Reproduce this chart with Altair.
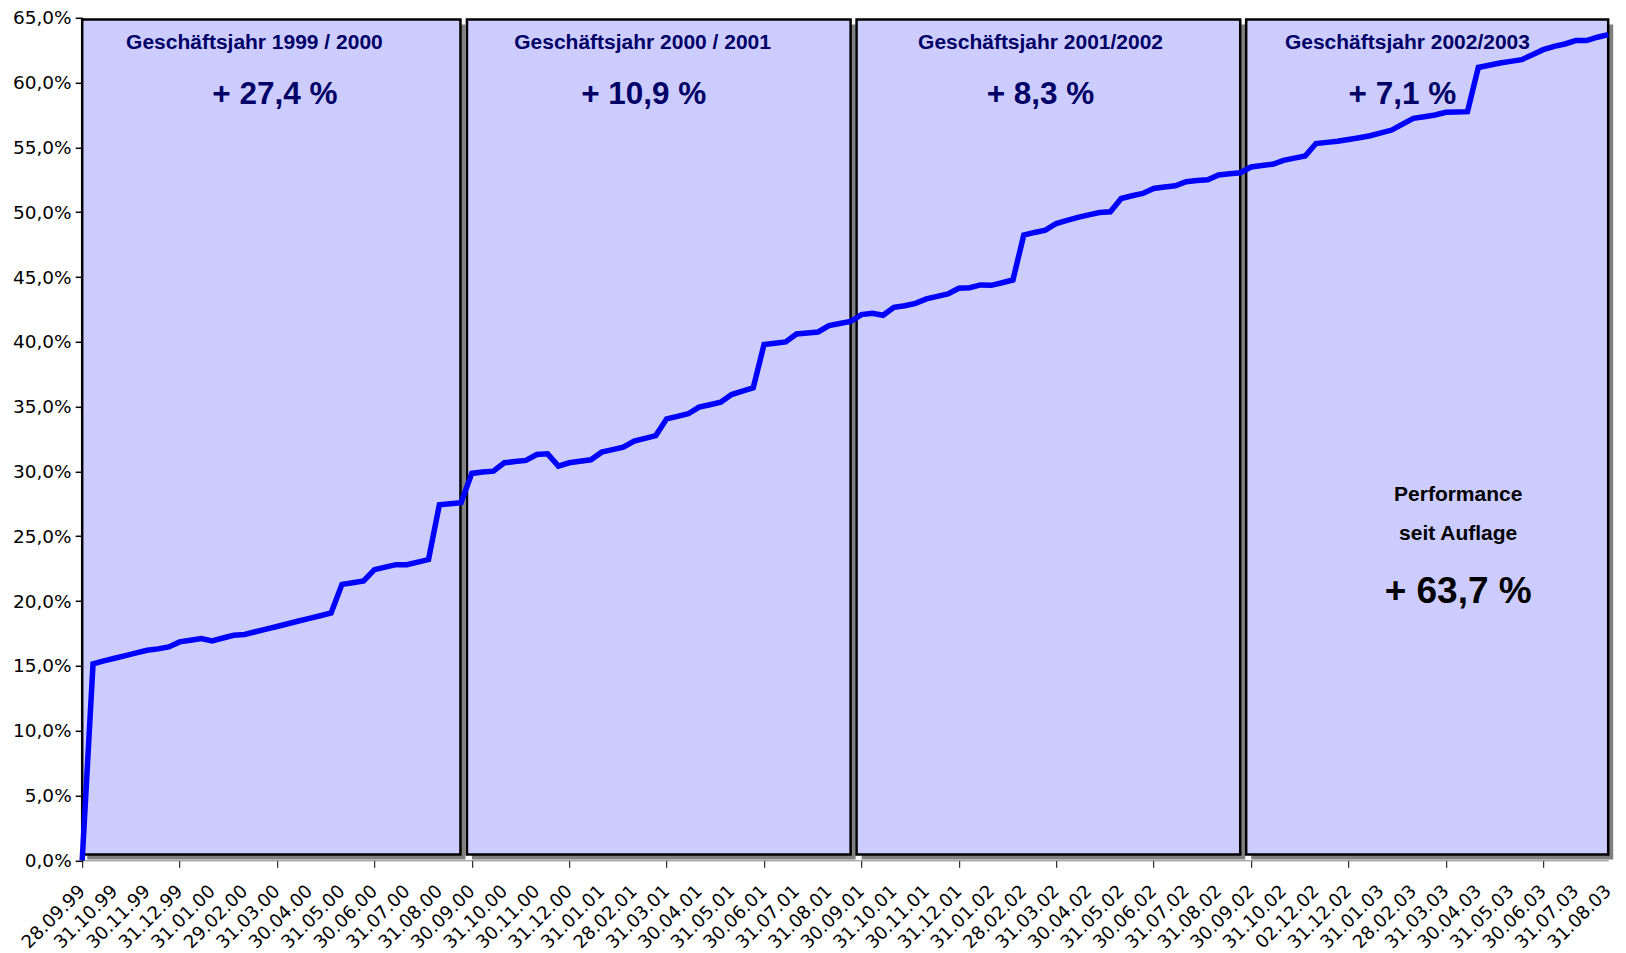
import altair as alt
import pandas as pd

# month-end labels (every third data point)
labels = ["28.09.99", "31.10.99", "30.11.99", "31.12.99",
          "31.01.00", "29.02.00", "31.03.00", "30.04.00", "31.05.00", "30.06.00",
          "31.07.00", "31.08.00", "30.09.00", "31.10.00", "30.11.00", "31.12.00",
          "31.01.01", "28.02.01", "31.03.01", "30.04.01", "31.05.01", "30.06.01",
          "31.07.01", "31.08.01", "30.09.01", "31.10.01", "30.11.01", "31.12.01",
          "31.01.02", "28.02.02", "31.03.02", "30.04.02", "31.05.02", "30.06.02",
          "31.07.02", "31.08.02", "30.09.02", "31.10.02", "02.12.02", "31.12.02",
          "31.01.03", "28.02.03", "31.03.03", "30.04.03", "31.05.03", "30.06.03",
          "31.07.03", "31.08.03"]

# cumulative performance in percent (one value per data point)
values = [0.0, 15.15, 15.38, 15.59, 15.79, 16.0, 16.2, 16.31, 16.46,
          16.85, 16.97, 17.1, 16.92, 17.15, 17.36, 17.42, 17.63, 17.84,
          18.04, 18.25, 18.46, 18.67, 18.87, 19.08, 21.29, 21.42, 21.55,
          22.42, 22.62, 22.81, 22.81, 23.0, 23.2, 27.43, 27.51, 27.59,
          29.85, 29.95, 30.02, 30.67, 30.76, 30.85, 31.31, 31.36, 30.41,
          30.67, 30.78, 30.9, 31.49, 31.68, 31.87, 32.34, 32.55, 32.77,
          34.06, 34.25, 34.45, 34.96, 35.15, 35.34, 35.93, 36.19, 36.45,
          39.79, 39.89, 39.99, 40.61, 40.69, 40.76, 41.25, 41.42, 41.57,
          42.1, 42.2, 42.05, 42.66, 42.79, 42.97, 43.31, 43.51, 43.69,
          44.13, 44.18, 44.39, 44.36, 44.56, 44.77, 48.24, 48.44, 48.62,
          49.13, 49.37, 49.6, 49.8, 49.98, 50.03, 51.06, 51.27, 51.45,
          51.83, 51.94, 52.04, 52.35, 52.45, 52.5, 52.87, 52.97, 53.05,
          53.49, 53.6, 53.7, 54.0, 54.17, 54.34, 55.3, 55.39, 55.48,
          55.61, 55.75, 55.9, 56.12, 56.34, 56.8, 57.24, 57.37, 57.5,
          57.71, 57.74, 57.76, 61.17, 61.34, 61.51, 61.64, 61.77, 62.15,
          62.54, 62.8, 62.98, 63.24, 63.24, 63.5, 63.7]

# fiscal-year boxes (in data-point units)
box_start = [0.0, 35.55, 71.55, 107.55]
box_end = [34.95, 71.0, 107.0, 141.0]
box_low = [0.45, 0.45, 0.45, 0.45]
box_high = [64.87, 64.87, 64.87, 64.87]

fy_titles = ["Geschäftsjahr 1999 / 2000", "Geschäftsjahr 2000 / 2001",
             "Geschäftsjahr 2001/2002", "Geschäftsjahr 2002/2003"]
fy_gains = ["+ 27,4 %", "+ 10,9 %", "+ 8,3 %", "+ 7,1 %"]
title_x = [15.91, 51.78, 88.55, 122.45]
title_y = [63.02, 63.02, 63.02, 63.02]
gain_x = [17.8, 51.89, 88.55, 121.98]
gain_y = [59.02, 59.02, 59.02, 59.02]

perf_lines = ["Performance", "seit Auflage"]
perf_x = [127.14, 127.14]
perf_y = [28.17, 25.14]
total_text = ["+ 63,7 %"]
total_x = [127.14]
total_y = [20.67]

n = len(values)
df_line = pd.DataFrame({"pos": list(range(n)), "perf": values})
df_box = pd.DataFrame({"s": box_start, "e": box_end, "lo": box_low, "hi": box_high})
df_title = pd.DataFrame({"x": title_x, "y": title_y, "t": fy_titles})
df_gain = pd.DataFrame({"x": gain_x, "y": gain_y, "t": fy_gains})
df_perf = pd.DataFrame({"x": perf_x, "y": perf_y, "t": perf_lines})
df_total = pd.DataFrame({"x": total_x, "y": total_y, "t": total_text})

label_arr = "[" + ",".join("'" + l + "'" for l in labels) + "]"

xscale = alt.Scale(domain=[0, n - 1], nice=False, zero=False)
yscale = alt.Scale(domain=[0, 65], nice=False, zero=True)

xaxis = alt.Axis(
    values=list(range(0, n, 3)),
    labelExpr=label_arr + "[round(datum.value / 3)]",
    labelAngle=-45, labelAlign="right", labelBaseline="middle",
    labelFont="DejaVu Sans", labelFontSize=18.2, labelColor="black",
    labelPadding=21, labelOverlap=False, labelFlush=False, labelBound=False,
    tickColor="black", tickSize=7, tickWidth=1,
    tickOpacity={"condition": {"test": "datum.value % 9 === 0", "value": 1}, "value": 0},
    domainColor="#808080", domainWidth=1, grid=False, title=None,
)
yaxis = alt.Axis(
    values=list(range(0, 66, 5)),
    labelExpr="replace(format(datum.value, '.1f'), '.', ',') + '%'",
    labelFont="DejaVu Sans", labelFontSize=18.5, labelColor="black",
    labelPadding=4, tickColor="black", tickSize=7, tickWidth=1.5,
    domainColor="black", domainWidth=2, grid=False, title=None,
)


def X(field):
    return alt.X(field, type="quantitative", scale=xscale, axis=xaxis)


def Y(field):
    return alt.Y(field, type="quantitative", scale=yscale, axis=yaxis)


shadow = alt.Chart(df_box).mark_rect(
    fill="#808080", xOffset=5, x2Offset=5, yOffset=5, y2Offset=5
).encode(x=X("s"), x2="e", y=Y("lo"), y2="hi")

boxes = alt.Chart(df_box).mark_rect(
    fill="#CCCCFF", stroke="black", strokeWidth=2.5
).encode(x=X("s"), x2="e", y=Y("lo"), y2="hi")

line = alt.Chart(df_line).mark_line(
    color="#0000FF", strokeWidth=5.5
).encode(x=X("pos"), y=Y("perf"))

titles = alt.Chart(df_title).mark_text(
    font="Liberation Sans", fontWeight="bold", fontSize=21, color="#000066",
    align="center", baseline="middle"
).encode(x=X("x"), y=Y("y"), text="t:N")

gains = alt.Chart(df_gain).mark_text(
    font="Liberation Sans", fontWeight="bold", fontSize=31.5, color="#000066",
    align="center", baseline="middle"
).encode(x=X("x"), y=Y("y"), text="t:N")

perf = alt.Chart(df_perf).mark_text(
    font="Liberation Sans", fontWeight="bold", fontSize=21, color="black",
    align="center", baseline="middle"
).encode(x=X("x"), y=Y("y"), text="t:N")

total = alt.Chart(df_total).mark_text(
    font="Liberation Sans", fontWeight="bold", fontSize=37, color="black",
    align="center", baseline="middle"
).encode(x=X("x"), y=Y("y"), text="t:N")

chart = alt.layer(shadow, boxes, line, titles, gains, perf, total).properties(
    width=1526, height=842.5,
    padding={"left": 74.2, "top": 9.8, "right": 9.8, "bottom": 110},
    autosize=alt.AutoSizeParams(type="none"),
    background="white",
).configure_view(stroke=None)

chart.save("out.html", embed_options={"renderer": "svg", "actions": False})
